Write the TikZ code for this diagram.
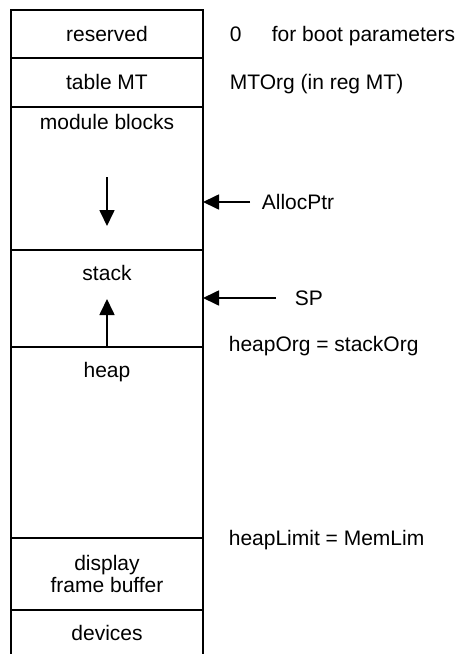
\documentclass[tikz,border=0pt]{standalone}
\usepackage{fontspec}
\setmainfont{Liberation Sans}
\usetikzlibrary{arrows.meta}
\begin{document}
\begin{tikzpicture}[x=1pt,y=-1pt, line width=1.7pt,
  lbl/.style={font=\fontsize{21}{24}\selectfont, inner sep=0pt, text height=18pt, text depth=3.5pt},
  arr/.style={-{Triangle[length=16pt,width=15pt]}}]
\useasboundingbox (0,0) rectangle (458,654);
% memory column
\draw (11,654) -- (11,10) -- (203,10) -- (203,654);
\foreach \y/\n in {58/a,107/b,250/c,347/d,538/e,610/f}
  \draw (11,\y) coordinate (L\n) -- (203,\y) coordinate (R\n);
% block labels
\node[lbl] (reserved) at (107,34) {reserved};
\node[lbl] (tablemt) at (107,82) {table MT};
\node[lbl] (modblocks) at (107,122) {module blocks};
\node[lbl] (stack) at (107,273) {stack};
\node[lbl] (heap) at (107,370) {heap};
\node[lbl] (display) at (107,563) {display};
\node[lbl] (framebuf) at (107,585) {frame buffer};
\node[lbl] (devices) at (107,633) {devices};
% growth arrows
\coordinate (mbtop) at (107,177);
\coordinate (mbtip) at (107,226);
\draw[arr] (mbtop) -- (mbtip);
\coordinate (sttip) at (107,299);
\draw[arr] (Ld -| sttip) -- (sttip);
% right-hand labels
\node[lbl, anchor=west] (zero) at (229,34) {0};
\node[lbl, anchor=west] (boot) at (271,34) {for boot parameters};
\node[lbl, anchor=west] (mtorg) at (229,82) {MTOrg (in reg MT)};
\node[lbl, anchor=west] (allocptr) at (261,202) {AllocPtr};
\node[lbl, anchor=west] (sp) at (294,298) {SP};
\node[lbl, anchor=west] (heaporg) at (228,344) {heapOrg = stackOrg};
\node[lbl, anchor=west] (heaplimit) at (228,538) {heapLimit = MemLim};
% pointer arrows
\coordinate (aptail) at (250,202);
\coordinate (aptip) at (203,202);
\draw[arr] (aptail) -- (aptip);
\coordinate (sptail) at (276,298);
\coordinate (sptip) at (203,298);
\draw[arr] (sptail) -- (sptip);
\end{tikzpicture}
\end{document}
